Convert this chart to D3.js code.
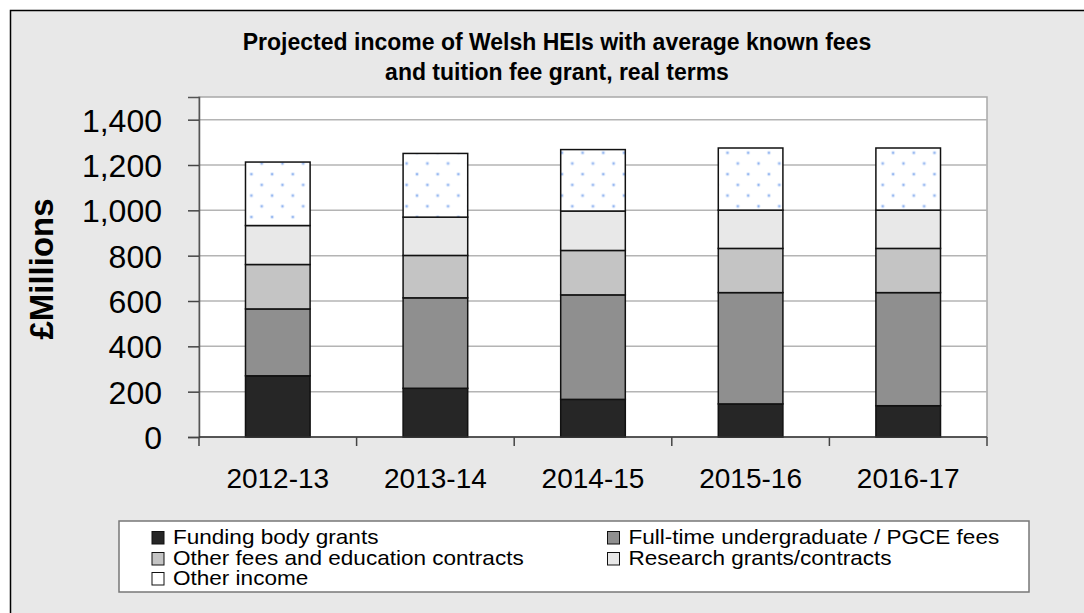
<!DOCTYPE html>
<html><head><meta charset="utf-8">
<script src="https://cdn.jsdelivr.net/npm/d3@7"></script>
<style>html,body{margin:0;padding:0;background:#fff;}svg{display:block;font-family:"Liberation Sans",Arial,sans-serif;}</style>
</head><body>
<script>
const years = ["2012-13","2013-14","2014-15","2015-16","2016-17"];
const funding = [270, 215, 166, 146, 138];
const ftFees = [295, 399, 461, 491, 499];
const otherFees = [196, 187, 196, 195, 195];
const research = [172, 169, 174, 169, 169];
const otherIncome = [280, 281, 271, 274, 274];
const seriesNames = ["Funding body grants","Full-time undergraduate / PGCE fees","Other fees and education contracts","Research grants/contracts","Other income"];
const yTicks = [0,200,400,600,800,1000,1200,1400];
const titleLines = ["Projected income of Welsh HEIs with average known fees","and tuition fee grant, real terms"];

(function(){
const W = 1084, H = 613;
const svg = d3.select("body").append("svg").attr("width", W).attr("height", H);
const defs = svg.append("defs");
const pat = defs.append("pattern").attr("id","dots").attr("patternUnits","userSpaceOnUse")
  .attr("width",20.7).attr("height",21.4);
pat.append("rect").attr("width",20.7).attr("height",21.4).attr("fill","#fff");
[[3,3],[13.35,13.7]].forEach(p=>{
  pat.append("circle").attr("cx",p[0]).attr("cy",p[1]).attr("r",2).attr("fill","#dbe7fb");
  pat.append("circle").attr("cx",p[0]).attr("cy",p[1]).attr("r",1.1).attr("fill","#8fb3f0");
});

const fills = ["#262626","#8f8f8f","#c4c4c4","#e8e8e8","url(#dots)"];
const legendFills = ["#262626","#8f8f8f","#c4c4c4","#e8e8e8","#fff"];

svg.append("rect").attr("x",10.5).attr("y",10.5).attr("width",W).attr("height",H)
  .attr("fill","#e8e8e8").attr("stroke","#000").attr("stroke-width",1.5);

const pL = 199, pR = 987, pT = 97, pB = 437;
const x = d3.scaleBand().domain(years).range([pL,pR]).paddingInner(0.59).paddingOuter(0.295);
const y = d3.scaleLinear().domain([0,1500]).range([pB,pT]);

svg.append("rect").attr("x",pL).attr("y",pT).attr("width",pR-pL).attr("height",pB-pT)
  .attr("fill","#fff").attr("stroke","#a8a8a8").attr("stroke-width",1.5);

svg.append("g").selectAll("line").data(yTicks.filter(d=>d>0)).join("line")
  .attr("x1",pL).attr("x2",pR).attr("y1",d=>y(d)).attr("y2",d=>y(d))
  .attr("stroke","#b4b4b4").attr("stroke-width",1.5);

const rows = years.map((yr,i)=>({year:yr, s0:funding[i], s1:ftFees[i], s2:otherFees[i], s3:research[i], s4:otherIncome[i]}));
const stack = d3.stack().keys(["s0","s1","s2","s3","s4"])(rows);
stack.forEach((layer,k)=>{
  svg.append("g").selectAll("rect").data(layer).join("rect")
    .attr("x",d=>x(d.data.year)).attr("width",x.bandwidth())
    .attr("y",d=>y(d[1])).attr("height",d=>y(d[0])-y(d[1]))
    .attr("fill",fills[k]).attr("stroke","#111").attr("stroke-width",1.5);
});

const yAxis = svg.append("g").attr("transform",`translate(${pL},0)`)
  .call(d3.axisLeft(y).tickValues(yTicks).tickSize(11).tickPadding(26).tickFormat(d3.format(",")));
yAxis.select(".domain").attr("stroke","#555").attr("stroke-width",1.5);
yAxis.selectAll(".tick line").attr("stroke","#444").attr("stroke-width",1.5);
yAxis.selectAll(".tick text").attr("font-size",32).attr("font-family","Liberation Sans, Arial, sans-serif").attr("fill","#000").attr("dy","0.36em");

const xb = d3.scaleLinear().domain([0,years.length]).range([pL,pR]);
const xAxisG = svg.append("g").attr("transform",`translate(0,${pB})`);
xAxisG.append("line").attr("x1",pL).attr("x2",pR).attr("stroke","#333").attr("stroke-width",1.5);
xAxisG.selectAll("line.t").data(d3.range(years.length+1)).join("line").attr("class","t")
  .attr("x1",d=>xb(d)).attr("x2",d=>xb(d)).attr("y1",0).attr("y2",9).attr("stroke","#444").attr("stroke-width",1.5);
xAxisG.selectAll("text").data(years).join("text")
  .attr("x",d=>x(d)+x.bandwidth()/2).attr("y",51).attr("text-anchor","middle")
  .attr("font-size",28).attr("fill","#000").text(d=>d);

svg.append("text").attr("transform","translate(53,269) rotate(-90)").attr("text-anchor","middle")
  .attr("font-size",33).attr("font-weight","bold").text("£Millions");

svg.append("g").selectAll("text").data(titleLines).join("text")
  .attr("x",557).attr("y",(d,i)=>50+i*29.5).attr("text-anchor","middle")
  .attr("font-size",23).attr("font-weight","bold").text(d=>d);

svg.append("rect").attr("x",119).attr("y",521).attr("width",910).attr("height",71)
  .attr("fill","#fff").attr("stroke","#777").attr("stroke-width",1.5);
const legPos = [[152,544],[607.5,544],[152,565],[607.5,565],[152,585]];
const lg = svg.append("g").selectAll("g").data(seriesNames).join("g")
  .attr("transform",(d,i)=>`translate(${legPos[i][0]},${legPos[i][1]})`);
lg.append("rect").attr("x",0).attr("y",-12.5).attr("width",12).attr("height",12.5)
  .attr("fill",(d,i)=>legendFills[i]).attr("stroke","#111").attr("stroke-width",1);
lg.append("text").attr("transform","translate(21,0) scale(1.1,1)").attr("font-size",20.5).attr("fill","#000").text(d=>d);
})();
</script>
</body></html>
